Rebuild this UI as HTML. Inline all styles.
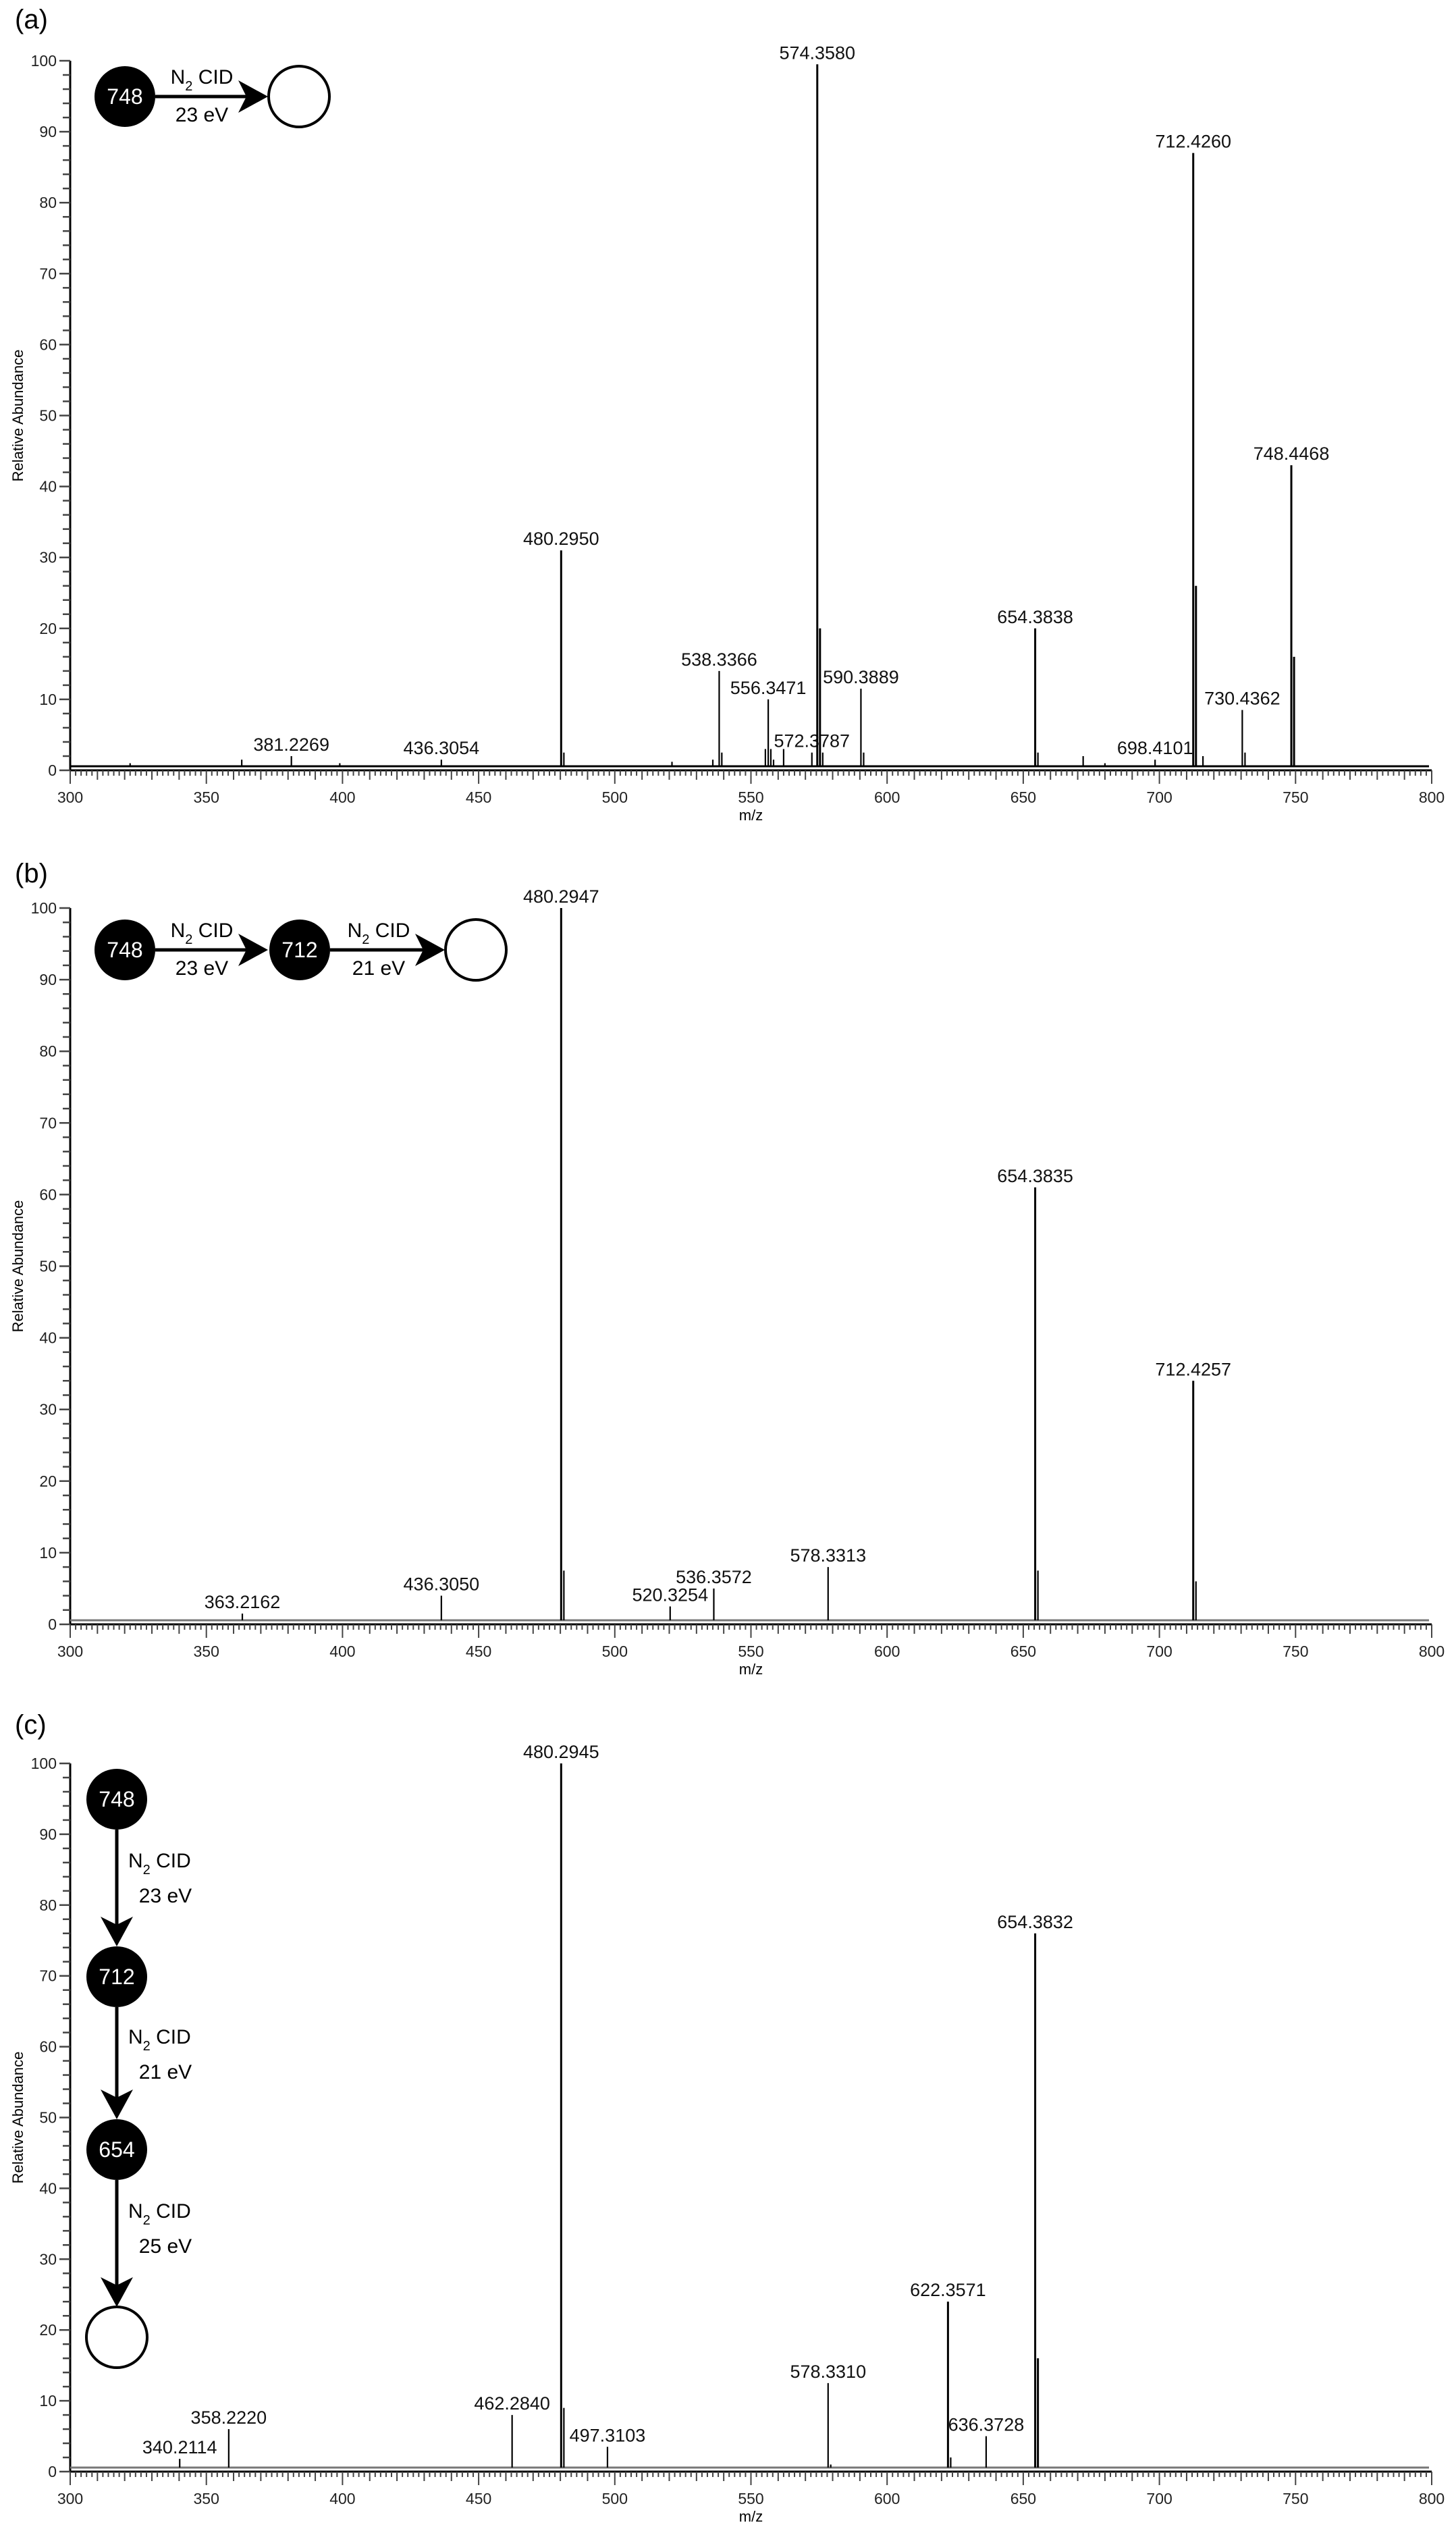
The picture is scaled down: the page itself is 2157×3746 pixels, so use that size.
<!DOCTYPE html>
<html><head><meta charset="utf-8">
<style>
html,body{margin:0;padding:0;background:#fff;}
svg{display:block;font-family:"Liberation Sans",sans-serif;}
</style></head>
<body>
<svg id="fig" width="2157" height="3746" viewBox="0 0 2157 3746" xmlns="http://www.w3.org/2000/svg">
<defs>
<path id="ah" d="M0,0 L-44,-24 L-32,0 L-44,24 Z" fill="#000"/>
</defs>
<g id="diagrams">
  <!-- panel a -->
  <g>
    <circle cx="185" cy="143" r="45" fill="#000"/>
    <text x="185" y="154" font-size="32" fill="#fff" text-anchor="middle">748</text>
    <line x1="230" y1="143" x2="380" y2="143" stroke="#000" stroke-width="5"/>
    <use href="#ah" x="397" y="143"/>
    <text x="299" y="124" font-size="30" text-anchor="middle">N<tspan font-size="20" dy="10">2</tspan><tspan dy="-10"> CID</tspan></text>
    <text x="299" y="180" font-size="30" text-anchor="middle">23 eV</text>
    <circle cx="443" cy="143" r="45" fill="none" stroke="#000" stroke-width="4"/>
  </g>
  <!-- panel b -->
  <g>
    <circle cx="185" cy="1407" r="45" fill="#000"/>
    <text x="185" y="1418" font-size="32" fill="#fff" text-anchor="middle">748</text>
    <line x1="230" y1="1407" x2="380" y2="1407" stroke="#000" stroke-width="5"/>
    <use href="#ah" x="397" y="1407"/>
    <text x="299" y="1388" font-size="30" text-anchor="middle">N<tspan font-size="20" dy="10">2</tspan><tspan dy="-10"> CID</tspan></text>
    <text x="299" y="1444" font-size="30" text-anchor="middle">23 eV</text>
    <circle cx="444" cy="1407" r="45" fill="#000"/>
    <text x="444" y="1418" font-size="32" fill="#fff" text-anchor="middle">712</text>
    <line x1="489" y1="1407" x2="642" y2="1407" stroke="#000" stroke-width="5"/>
    <use href="#ah" x="659" y="1407"/>
    <text x="561" y="1388" font-size="30" text-anchor="middle">N<tspan font-size="20" dy="10">2</tspan><tspan dy="-10"> CID</tspan></text>
    <text x="561" y="1444" font-size="30" text-anchor="middle">21 eV</text>
    <circle cx="705" cy="1407" r="45" fill="none" stroke="#000" stroke-width="4"/>
  </g>
  <!-- panel c -->
  <g>
    <circle cx="173" cy="2665" r="45" fill="#000"/>
    <text x="173" y="2676" font-size="32" fill="#fff" text-anchor="middle">748</text>
    <line x1="173" y1="2710" x2="173" y2="2866" stroke="#000" stroke-width="5"/>
    <use href="#ah" transform="translate(173,2883) rotate(90)"/>
    <text x="190" y="2766" font-size="30">N<tspan font-size="20" dy="10">2</tspan><tspan dy="-10"> CID</tspan></text>
    <text x="245" y="2818" font-size="30" text-anchor="middle">23 eV</text>
    <circle cx="173" cy="2928" r="45" fill="#000"/>
    <text x="173" y="2939" font-size="32" fill="#fff" text-anchor="middle">712</text>
    <line x1="173" y1="2973" x2="173" y2="3122" stroke="#000" stroke-width="5"/>
    <use href="#ah" transform="translate(173,3139) rotate(90)"/>
    <text x="190" y="3027" font-size="30">N<tspan font-size="20" dy="10">2</tspan><tspan dy="-10"> CID</tspan></text>
    <text x="245" y="3079" font-size="30" text-anchor="middle">21 eV</text>
    <circle cx="173" cy="3184" r="45" fill="#000"/>
    <text x="173" y="3195" font-size="32" fill="#fff" text-anchor="middle">654</text>
    <line x1="173" y1="3229" x2="173" y2="3400" stroke="#000" stroke-width="5"/>
    <use href="#ah" transform="translate(173,3417) rotate(90)"/>
    <text x="190" y="3285" font-size="30">N<tspan font-size="20" dy="10">2</tspan><tspan dy="-10"> CID</tspan></text>
    <text x="245" y="3337" font-size="30" text-anchor="middle">25 eV</text>
    <circle cx="173" cy="3462" r="45" fill="none" stroke="#000" stroke-width="4"/>
  </g>
</g>
</svg>
<script>
// ---- data ----
const aMz  = [322, 363, 381.2269, 399, 436.3054, 480.2950, 481.3, 521, 536, 538.3366, 539.3, 555.3, 556.3471, 557.3, 558.3, 562, 572.3787, 574.3580, 575.36, 576.36, 590.3889, 591.39, 654.3838, 655.39, 672, 680, 698.4101, 712.4260, 713.43, 716, 730.4362, 731.44, 748.4468, 749.45];
const aInt = [1, 1.5, 2, 1, 1.5, 31, 2.5, 1.2, 1.5, 14, 2.5, 3, 10, 3, 1.5, 3, 2.5, 99.5, 20, 2.5, 11.5, 2.5, 20, 2.5, 2, 1, 1.5, 87, 26, 2, 8.5, 2.5, 43, 16];
const aLab = ["", "", "381.2269", "", "436.3054", "480.2950", "", "", "", "538.3366", "", "", "556.3471", "", "", "", "572.3787", "574.3580", "", "", "590.3889", "", "654.3838", "", "", "", "698.4101", "712.4260", "", "", "730.4362", "", "748.4468", ""];

const bMz  = [363.2162, 436.3050, 480.2947, 481.3, 520.3254, 536.3572, 578.3313, 654.3835, 655.39, 712.4257, 713.43];
const bInt = [1.5, 4, 100, 7.5, 2.5, 5, 8, 61, 7.5, 34, 6];
const bLab = ["363.2162", "436.3050", "480.2947", "", "520.3254", "536.3572", "578.3313", "654.3835", "", "712.4257", ""];

const cMz  = [340.2114, 358.2220, 462.2840, 480.2945, 481.3, 497.3103, 578.3310, 579.3, 622.3571, 623.36, 636.3728, 654.3832, 655.39];
const cInt = [1.8, 6, 8, 100, 9, 3.5, 12.5, 1, 24, 2, 5, 76, 16];
const cLab = ["340.2114", "358.2220", "462.2840", "480.2945", "", "497.3103", "578.3310", "", "622.3571", "", "636.3728", "654.3832", ""];

const xTicks = [300, 350, 400, 450, 500, 550, 600, 650, 700, 750, 800];
const yTicks = [0, 10, 20, 30, 40, 50, 60, 70, 80, 90, 100];
const panelNames = ["(a)", "(b)", "(c)"];

// ---- layout ----
const NS = "http://www.w3.org/2000/svg";
const svg = document.getElementById('fig');
const X0 = 104, X1 = 2121, MZ0 = 300, MZ1 = 800;
function xScale(m){ return X0 + (m - MZ0) * (X1 - X0) / (MZ1 - MZ0); }
function mk(tag, attrs, parent){
  const e = document.createElementNS(NS, tag);
  for (const k in attrs) e.setAttribute(k, attrs[k]);
  (parent || svg).appendChild(e);
  return e;
}
const panels = [
  {top: 90, bot: 1141, mz: aMz, it: aInt, lab: aLab, key: 'a', labelY: 42},
  {top: 1345, bot: 2406, mz: bMz, it: bInt, lab: bLab, key: 'b', labelY: 1307},
  {top: 2612, bot: 3661, mz: cMz, it: cInt, lab: cLab, key: 'c', labelY: 2568}
];

panels.forEach((p, pi) => {
  const yScale = v => p.bot - v * (p.bot - p.top) / 100;
  const g = mk('g', {});
  
  

  const pl = mk('text', {x: 22, y: p.labelY, 'font-size': 40}, g);
  
  
  pl.textContent = panelNames[pi];

  // y axis
  const ya = mk('line', {x1: X0, y1: p.top, x2: X0, y2: p.bot, stroke: '#000', 'stroke-width': 3}, g);
  
  
  for (let v = 0; v <= 100; v += 2) {
    const major = v % 10 === 0;
    mk('line', {x1: X0 - (major ? 16 : 11), y1: yScale(v), x2: X0, y2: yScale(v), stroke: '#444', 'stroke-width': 2.5}, g);
  }
  yTicks.forEach(v => {
    const t = mk('text', {x: X0 - 20, y: yScale(v) + 8, 'font-size': 23, 'text-anchor': 'end', fill: '#222'}, g);
    
    
    t.textContent = v;
  });
  const yt = mk('text', {x: 0, y: 0, 'font-size': 22, 'text-anchor': 'middle', transform: `translate(34,${(p.top + p.bot) / 2}) rotate(-90)`}, g);
  
  
  yt.textContent = 'Relative Abundance';

  // x axis
  const xa = mk('line', {x1: X0, y1: p.bot, x2: X1, y2: p.bot, stroke: '#000', 'stroke-width': 3}, g);
  
  
  for (let m = MZ0; m <= MZ1; m += 2) {
    const len = m % 50 === 0 ? 20 : (m % 10 === 0 ? 14 : 8);
    mk('line', {x1: xScale(m), y1: p.bot, x2: xScale(m), y2: p.bot + len, stroke: '#444', 'stroke-width': 2}, g);
  }
  xTicks.forEach(m => {
    const t = mk('text', {x: xScale(m), y: p.bot + 48, 'font-size': 23, 'text-anchor': 'middle', fill: '#222'}, g);
    
    
    t.textContent = m;
  });
  const xt = mk('text', {x: xScale(550), y: p.bot + 74, 'font-size': 22, 'text-anchor': 'middle'}, g);
  
  
  xt.textContent = 'm/z';

  // baseline
  const bl = mk('line', {x1: X0, y1: p.bot - 6, x2: X1 - 4, y2: p.bot - 6, stroke: pi === 0 ? '#000' : '#777', 'stroke-width': 3}, g);
  
  

  // peaks
  p.mz.forEach((m, i) => {
    const x = xScale(m), yTop = yScale(p.it[i]);
    const ln = mk('line', {x1: x, y1: p.bot - 6, x2: x, y2: yTop, stroke: '#000', 'stroke-width': p.it[i] > 15 ? 3 : 2.2}, g);
    
    
    if (p.lab[i]) {
      const t = mk('text', {x: x, y: yTop - 8, 'font-size': 27, 'text-anchor': 'middle', fill: '#111'}, g);
      
      
      t.textContent = p.lab[i];
    }
  });
});
// keep diagrams on top
svg.appendChild(document.getElementById('diagrams'));
</script>
</body></html>
